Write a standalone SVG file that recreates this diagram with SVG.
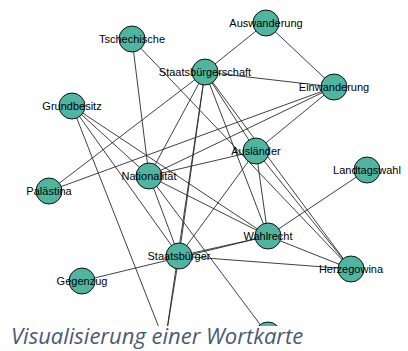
<svg xmlns="http://www.w3.org/2000/svg" width="408" height="351" viewBox="0 0 408 351">
<style>
.e line{stroke:#2a2a2a;stroke-width:0.9}
.n circle{fill:#4fb5a0;stroke:#111;stroke-width:1}
.n text{font-family:"Liberation Sans",Arial,sans-serif;font-size:11px;fill:#000;text-anchor:middle}
.title{font-family:"Open Sans","Noto Sans",sans-serif;font-style:italic;font-size:22px;fill:#4a5a72}
</style>
<defs><clipPath id="c"><rect x="0" y="0" width="408" height="326"/></clipPath></defs>
<rect width="408" height="351" fill="#fff"/>
<g clip-path="url(#c)">
<g id="connectors" class="e">
<line x1="132" y1="39" x2="149" y2="176"/>
<line x1="132" y1="39" x2="351" y2="269"/>
<line x1="266" y1="23" x2="205" y2="72"/>
<line x1="266" y1="23" x2="334" y2="87"/>
<line x1="205" y1="72" x2="334" y2="87"/>
<line x1="205" y1="72" x2="49" y2="191"/>
<line x1="205" y1="72" x2="149" y2="176"/>
<line x1="205" y1="72" x2="179" y2="256"/>
<line x1="205" y1="72" x2="165" y2="343"/>
<line x1="205" y1="72" x2="268" y2="236"/>
<line x1="205" y1="72" x2="256" y2="151"/>
<line x1="205" y1="72" x2="351" y2="269"/>
<line x1="334" y1="87" x2="256" y2="151"/>
<line x1="334" y1="87" x2="149" y2="176"/>
<line x1="334" y1="87" x2="49" y2="191"/>
<line x1="72" y1="106" x2="165" y2="343"/>
<line x1="72" y1="106" x2="149" y2="176"/>
<line x1="72" y1="106" x2="179" y2="256"/>
<line x1="72" y1="106" x2="268" y2="236"/>
<line x1="149" y1="176" x2="256" y2="151"/>
<line x1="149" y1="176" x2="268" y2="236"/>
<line x1="149" y1="176" x2="179" y2="256"/>
<line x1="149" y1="176" x2="268" y2="335"/>
<line x1="256" y1="151" x2="179" y2="256"/>
<line x1="256" y1="151" x2="268" y2="236"/>
<line x1="256" y1="151" x2="351" y2="269"/>
<line x1="367" y1="170" x2="268" y2="236"/>
<line x1="268" y1="236" x2="179" y2="256"/>
<line x1="82" y1="281" x2="268" y2="236"/>
<line x1="268" y1="236" x2="351" y2="269"/>
<line x1="179" y1="256" x2="351" y2="269"/>
<line x1="179" y1="256" x2="165" y2="343"/>
</g>
<g id="n-bottom" class="n"><circle cx="268" cy="335" r="13"/></g>
</g>
<g id="n-tschechische" class="n"><circle cx="132" cy="39" r="13"/><text x="132" y="39" dy="0.35em">Tschechische</text></g>
<g id="n-auswanderung" class="n"><circle cx="266" cy="23" r="13"/><text x="266" y="23" dy="0.35em">Auswanderung</text></g>
<g id="n-staatsbuergerschaft" class="n"><circle cx="205" cy="72" r="13"/><text x="205" y="72" dy="0.35em">Staatsbürgerschaft</text></g>
<g id="n-einwanderung" class="n"><circle cx="334" cy="87" r="13"/><text x="334" y="87" dy="0.35em">Einwanderung</text></g>
<g id="n-grundbesitz" class="n"><circle cx="72" cy="106" r="13"/><text x="72" y="106" dy="0.35em">Grundbesitz</text></g>
<g id="n-auslaender" class="n"><circle cx="256" cy="151" r="13"/><text x="256" y="151" dy="0.35em">Ausländer</text></g>
<g id="n-landtagswahl" class="n"><circle cx="367" cy="170" r="13"/><text x="367" y="170" dy="0.35em">Landtagswahl</text></g>
<g id="n-nationalitaet" class="n"><circle cx="149" cy="176" r="13"/><text x="149" y="176" dy="0.35em">Nationalität</text></g>
<g id="n-palaestina" class="n"><circle cx="49" cy="191" r="13"/><text x="49" y="191" dy="0.35em">Palästina</text></g>
<g id="n-wahlrecht" class="n"><circle cx="268" cy="236" r="13"/><text x="268" y="236" dy="0.35em">Wahlrecht</text></g>
<g id="n-staatsbuerger" class="n"><circle cx="179" cy="256" r="13"/><text x="179" y="256" dy="0.35em">Staatsbürger</text></g>
<g id="n-herzegowina" class="n"><circle cx="351" cy="269" r="13"/><text x="351" y="269" dy="0.35em">Herzegowina</text></g>
<g id="n-gegenzug" class="n"><circle cx="82" cy="281" r="13"/><text x="82" y="281" dy="0.35em">Gegenzug</text></g>
<text class="title" x="11" y="344">Visualisierung einer Wortkarte</text>
</svg>
